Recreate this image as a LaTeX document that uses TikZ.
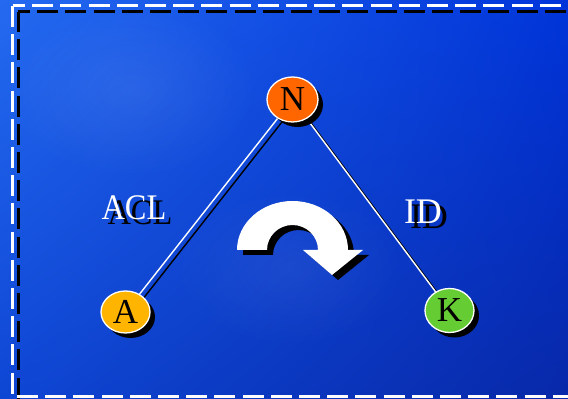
\documentclass[tikz,border=0pt]{standalone}
\usepackage{fontspec}
\setmainfont{Liberation Serif}
\usetikzlibrary{shapes.geometric,shadows,shadings,fadings}

\definecolor{bgTL}{RGB}{36,106,240}
\definecolor{bgTR}{RGB}{0,52,218}
\definecolor{bgBL}{RGB}{14,70,212}
\definecolor{bgBR}{RGB}{8,40,168}
\definecolor{nodeN}{RGB}{255,102,0}
\definecolor{nodeA}{RGB}{255,180,0}
\definecolor{nodeK}{RGB}{102,204,51}

\tikzfading[name=fuzzy, inner color=transparent!0, outer color=transparent!100]

\tikzset{
  letter/.style={ellipse, draw=white, line width=1.3pt, text=black,
    inner sep=0pt, font=\fontsize{35}{35}\selectfont,
    drop shadow={shadow xshift=5pt, shadow yshift=-5pt, fill=black, opacity=1}},
  whitedash/.style={draw=white, line width=3pt, dash pattern=on 21pt off 7.2pt},
  blackdash/.style={draw=black, line width=3pt, dash pattern=on 21pt off 7.2pt},
  linkline/.style={draw=white, line width=1.4pt},
  linkshadow/.style={draw=black, line width=1.4pt},
  lbl/.style={text=white, font=\fontsize{36}{36}\selectfont, inner sep=0pt},
  lblshadow/.style={text=black, font=\fontsize{36}{36}\selectfont, inner sep=0pt}
}

\begin{document}
\begin{tikzpicture}[x=1pt,y=1pt]
\useasboundingbox (0,0) rectangle (568,399);

% backdrop with soft light patches
\shade[upper left=bgTL, upper right=bgTR, lower left=bgBL, lower right=bgBR]
  (0,0) rectangle (568,399);
\fill[white, opacity=0.08, path fading=fuzzy] (130,310) ellipse [x radius=130, y radius=90];
\fill[white, opacity=0.06, path fading=fuzzy] (290,130) ellipse [x radius=120, y radius=80];

% dashed frame with its shadow
\draw[blackdash, dash phase=9pt] (18,387) -- (580,387);
\draw[blackdash, dash phase=1pt] (18,387) -- (18,-10);
\draw[whitedash, dash phase=8.5pt] (12.5,393) -- (580,393);
\draw[whitedash] (12.5,393) -- (12.5,-10);
\draw[whitedash] (17,2.5) -- (580,2.5);

% nodes
\coordinate (cN) at (292.5,299.5);
\coordinate (cA) at (125.5,87);
\coordinate (cK) at (449.5,88.5);

\draw[linkshadow] ([shift={(4,-4)}]cN) -- ([shift={(4,-4)}]cA);
\draw[linkshadow] ([shift={(4,-4)}]cN) -- ([shift={(4,-4)}]cK);
\draw[linkline] (cN) -- (cA);
\draw[linkline] (cN) -- (cK);

\node[letter, fill=nodeN, minimum width=51pt, minimum height=45pt] (N) at (cN) {N};
\node[letter, fill=nodeA, minimum width=49pt, minimum height=42pt] (A) at (cA) {A};
\node[letter, fill=nodeK, minimum width=49pt, minimum height=44pt] (K) at (cK) {K};

% edge labels
\node[lblshadow, xscale=0.9] (aclS) at (140,186) {ACL};
\node[lbl, xscale=0.9] (acl) at (134,191) {ACL};
\node[lblshadow] (idS) at (429,182) {ID};
\node[lbl] (id) at (423,187) {ID};

% turning arrow
\fill[black, shift={(6,-5)}] (237,149) arc[start angle=180, end angle=0, x radius=55.5, y radius=49]
  -- (363,149) -- (332,124) -- (303,149) -- (318,149)
  arc[start angle=0, end angle=180, x radius=25.5, y radius=25] -- cycle;
\fill[white] (237,149) arc[start angle=180, end angle=0, x radius=55.5, y radius=49]
  -- (363,149) -- (332,124) -- (303,149) -- (318,149)
  arc[start angle=0, end angle=180, x radius=25.5, y radius=25] -- cycle;
\end{tikzpicture}
\end{document}
